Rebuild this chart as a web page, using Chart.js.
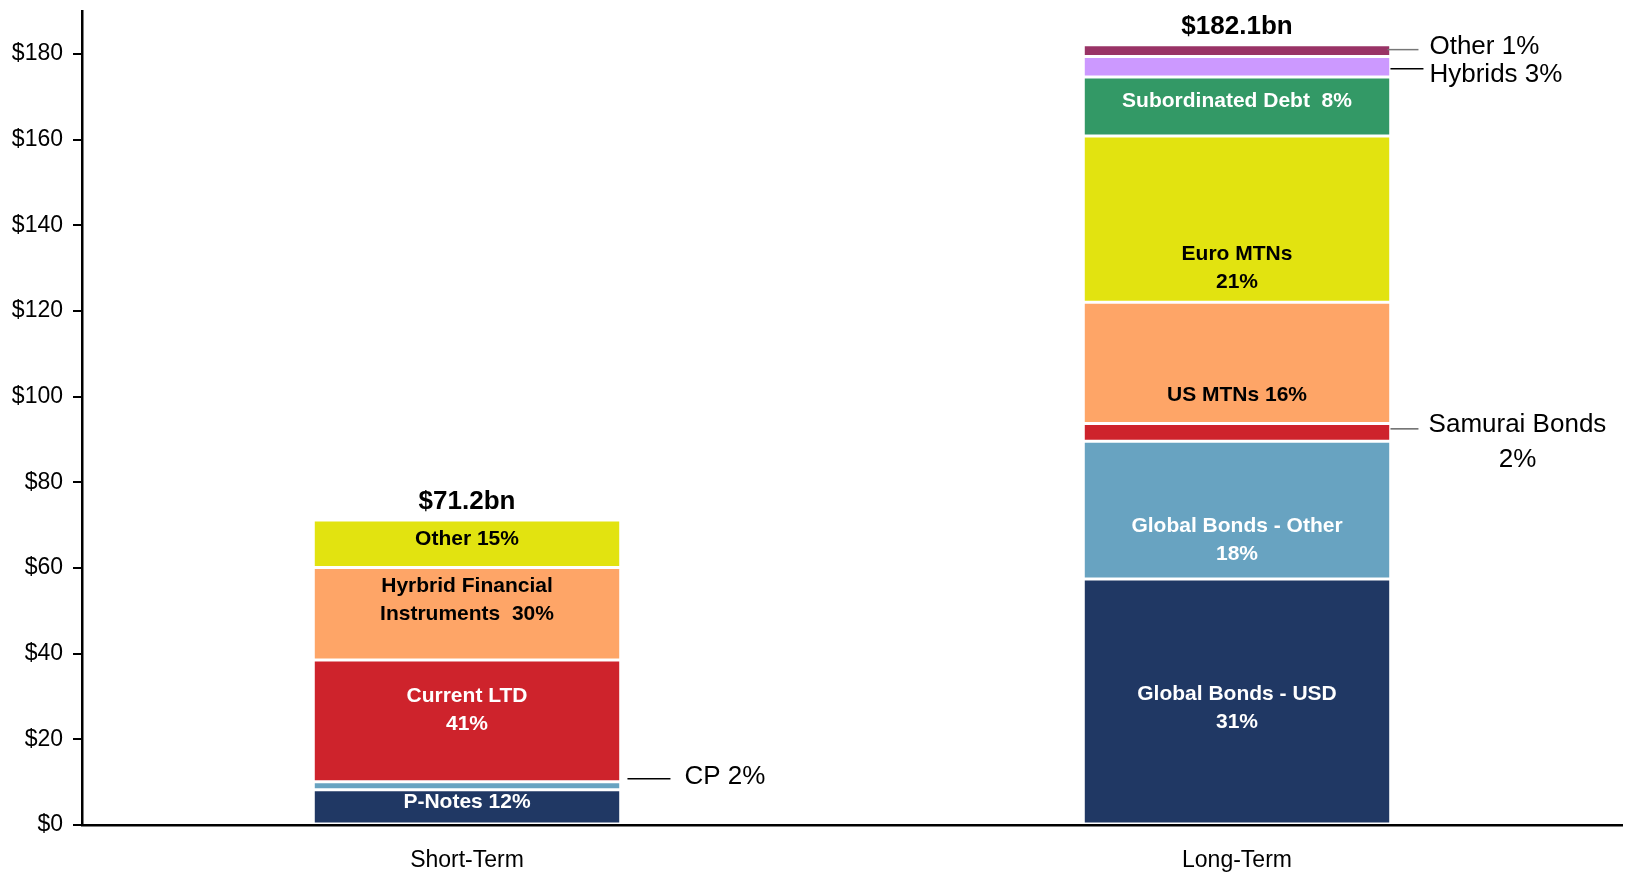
<!DOCTYPE html>
<html>
<head>
<meta charset="utf-8">
<title>Debt funding mix</title>
<script src="https://cdn.jsdelivr.net/npm/chart.js@4.4.1/dist/chart.umd.min.js"></script>
<style>
  html, body { margin: 0; padding: 0; background: #fff; }
  #wrap { width: 1627px; height: 874px; position: relative; }
</style>
</head>
<body>
<div id="wrap"><canvas id="fundingChart"></canvas></div>
<script>
// values in $bn (bottom segment first)
const categories = ['Short-Term', 'Long-Term'];
const shortTermValues = [8.2, 1.9, 28.4, 21.6, 11.1];
const longTermValues = [57.4, 32.2, 4.1, 28.3, 38.8, 13.8, 4.8, 2.7];
const shortTermLabels = ['P-Notes 12%', 'CP 2%', 'Current LTD\n41%', 'Hyrbrid Financial\nInstruments  30%', 'Other 15%'];
const longTermLabels = ['Global Bonds - USD\n31%', 'Global Bonds - Other\n18%', 'Samurai Bonds\n2%', 'US MTNs 16%',
  'Euro MTNs\n21%', 'Subordinated Debt  8%', 'Hybrids 3%', 'Other 1%'];
const totals = [71.2, 182.1];
const totalLabels = ['$71.2bn', '$182.1bn'];
const yMax = 190;
const yStep = 20;

const colors = ['#203864', '#68A3C1', '#CE232C', '#FEA567', '#E2E310', '#339966', '#CC99FF', '#993366'];

// how each segment label is drawn: inside the bar, or as a callout to the right
const labelStyle = [
  // short-term
  [{ color: '#fff', dy: -5 }, { callout: true, dy: -7, x1: 8, x2: 51, tx: 65, ty: -2, line: '#000' },
   { color: '#fff', dy: -11 }, { color: '#000', dy: -14 }, { color: '#000', dy: -5 }],
  // long-term
  [{ color: '#fff', dy: 7 }, { color: '#fff', dy: 30 },
   { callout: true, dy: -3.5, x1: 1, x2: 29, tx: 128, ty: -4, align: 'center', line: '#666' },
   { color: '#000', dy: 32 }, { color: '#000', dy: 49 }, { color: '#fff', dy: -5 },
   { callout: true, dy: 2, x1: 1, x2: 34, tx: 40, ty: 6, line: '#000' },
   { callout: true, dy: -1, x1: -2, x2: 29, tx: 40, ty: -3, line: '#777' }]
];

const FONT = '"Liberation Sans", Arial, Helvetica, sans-serif';
Chart.defaults.font.family = FONT;
Chart.defaults.color = '#000';

const datasets = colors.map((c, k) => ({
  label: 'segment ' + k,
  data: [shortTermValues[k] ?? null, longTermValues[k] ?? null],
  backgroundColor: c,
  borderColor: '#fff',
  borderWidth: { top: 1.5, bottom: 1.5, left: 0, right: 0 },
  borderSkipped: false
}));

const segmentLabels = {
  id: 'segmentLabels',
  afterDatasetsDraw(chart) {
    const ctx = chart.ctx;
    const texts = [shortTermLabels, longTermLabels];
    ctx.save();
    chart.data.datasets.forEach((ds, k) => {
      const meta = chart.getDatasetMeta(k);
      meta.data.forEach((bar, j) => {
        if (ds.data[j] == null) return;
        const text = texts[j][k];
        const st = labelStyle[j][k];
        if (!text || !st) return;
        const lines = text.split('\n');
        const midY = (bar.y + bar.base) / 2 + st.dy;
        if (st.callout) {
          const right = bar.x + bar.width / 2;
          ctx.strokeStyle = st.line;
          ctx.lineWidth = 1.5;
          ctx.beginPath();
          ctx.moveTo(right + st.x1, midY);
          ctx.lineTo(right + st.x2, midY);
          ctx.stroke();
          ctx.font = '26px ' + FONT;
          ctx.fillStyle = '#000';
          ctx.textAlign = st.align || 'left';
          ctx.textBaseline = 'middle';
          lines.forEach((ln, i) => ctx.fillText(ln, right + st.tx, midY + st.ty + i * 35));
        } else {
          ctx.font = 'bold 21px ' + FONT;
          ctx.fillStyle = st.color;
          ctx.textAlign = 'center';
          ctx.textBaseline = 'middle';
          const lh = 28;
          const y0 = midY - (lines.length - 1) * lh / 2;
          lines.forEach((ln, i) => ctx.fillText(ln, bar.x, y0 + i * lh));
        }
      });
    });
    // totals above the bars
    const yScale = chart.scales.y;
    const xScale = chart.scales.x;
    ctx.font = 'bold 26px ' + FONT;
    ctx.fillStyle = '#000';
    ctx.textAlign = 'center';
    ctx.textBaseline = 'alphabetic';
    totals.forEach((t, j) => {
      ctx.fillText(totalLabels[j], xScale.getPixelForValue(j), yScale.getPixelForValue(t) - 11);
    });
    ctx.restore();
  }
};

new Chart(document.getElementById('fundingChart'), {
  type: 'bar',
  data: { labels: categories, datasets: datasets },
  plugins: [segmentLabels],
  options: {
    responsive: true,
    maintainAspectRatio: false,
    animation: false,
    layout: { padding: { top: 11, right: 5, left: 0, bottom: 0 } },
    plugins: { legend: { display: false }, tooltip: { enabled: false } },
    datasets: { bar: { categoryPercentage: 1, barPercentage: 0.396 } },
    scales: {
      x: {
        stacked: true,
        z: 1,
        grid: { display: true, drawOnChartArea: false, drawTicks: false },
        border: { display: true, color: '#000', width: 2.5 },
        ticks: { padding: 22, font: { size: 23 }, color: '#000' },
        afterFit(scale) { scale.height = 49; scale.paddingLeft = 0; scale.paddingRight = 0; }
      },
      y: {
        stacked: true,
        min: 0,
        max: yMax,
        z: 1,
        grid: { drawOnChartArea: false, drawTicks: true, tickLength: 9, color: '#000', lineWidth: 2 },
        border: { display: true, color: '#000', width: 2.5 },
        ticks: {
          stepSize: yStep,
          padding: 10,
          font: { size: 23 },
          color: '#000',
          callback: v => '$' + v
        },
        afterBuildTicks(scale) {
          scale.ticks = scale.ticks.filter(t => t.value % yStep === 0);
        },
        afterFit(scale) { scale.width = 82; scale.paddingTop = 0; scale.paddingBottom = 0; }
      }
    }
  }
});
</script>
</body>
</html>
